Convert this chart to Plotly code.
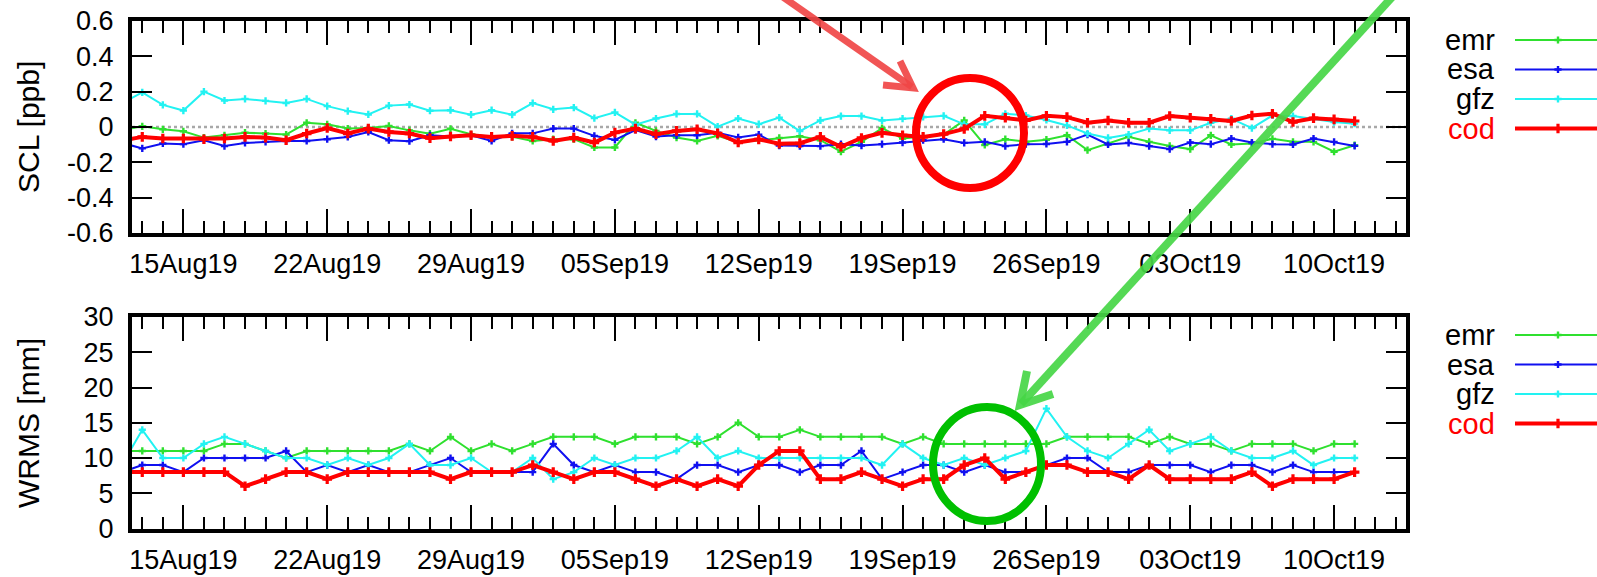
import plotly.graph_objects as go
import pandas as pd

# ---------------- data ----------------
dates = pd.date_range("2019-08-12", "2019-10-11", freq="D")

series_names = ["emr", "esa", "gfz", "cod"]

scl_emr = [-0.018, 0.004, -0.013, -0.024, -0.06, -0.047, -0.032, -0.037, -0.043, 0.024, 0.015,
           -0.009, -0.006, 0.006, -0.019, -0.038, -0.01, -0.041, -0.056, -0.056, -0.079,
           -0.069, -0.069, -0.116, -0.116, 0.024, -0.022, -0.06, -0.079, -0.05, -0.086,
           -0.075, -0.062, -0.052, -0.075, -0.14, -0.084, -0.006, -0.065, -0.056, -0.043,
           0.037, -0.102, -0.069, -0.084, -0.072, -0.047, -0.131, -0.093, -0.056, -0.084,
           -0.107, -0.125, -0.047, -0.099, -0.093, -0.067, -0.084, -0.084, -0.14, -0.103]
scl_esa = [-0.09, -0.121, -0.093, -0.097, -0.075, -0.108, -0.09, -0.084, -0.079, -0.079, -0.069,
           -0.056, -0.028, -0.075, -0.08, -0.047, -0.054, -0.047, -0.079, -0.036, -0.036,
           -0.009, -0.009, -0.05, -0.073, -0.017, -0.054, -0.047, -0.047, -0.032, -0.059,
           -0.043, -0.105, -0.108, -0.108, -0.097, -0.105, -0.097, -0.088, -0.075, -0.069,
           -0.09, -0.084, -0.108, -0.097, -0.096, -0.084, -0.043, -0.099, -0.09, -0.108,
           -0.125, -0.088, -0.097, -0.065, -0.088, -0.097, -0.099, -0.065, -0.084, -0.107]
scl_gfz = [0.134, 0.196, 0.125, 0.093, 0.2, 0.15, 0.159, 0.148, 0.136, 0.159, 0.118,
           0.09, 0.071, 0.121, 0.127, 0.092, 0.095, 0.07, 0.095, 0.07, 0.135,
           0.10, 0.11, 0.05, 0.083, 0.013, 0.048, 0.074, 0.074, 0.002, 0.048,
           0.016, 0.053, -0.023, 0.037, 0.062, 0.062, 0.037, 0.047, 0.057, 0.063,
           0.015, 0.015, 0.075, 0.065, 0.04, 0.009, -0.037, -0.062, -0.043, -0.009,
           -0.019, -0.019, 0.024, 0.047, -0.006, 0.065, 0.062, 0.047, 0.028, 0.019]
scl_cod = [-0.076, -0.056, -0.065, -0.065, -0.069, -0.065, -0.056, -0.06, -0.075, -0.037, -0.006,
           -0.037, -0.009, -0.028, -0.037, -0.063, -0.054, -0.047, -0.056, -0.05, -0.056,
           -0.079, -0.06, -0.088, -0.032, -0.009, -0.041, -0.022, -0.013, -0.036, -0.088,
           -0.07, -0.095, -0.092, -0.056, -0.112, -0.062, -0.033, -0.047, -0.056, -0.04,
           -0.011, 0.063, 0.052, 0.037, 0.063, 0.056, 0.024, 0.037, 0.024, 0.024,
           0.062, 0.052, 0.047, 0.034, 0.065, 0.075, 0.028, 0.05, 0.043, 0.034]

wrms_emr = [11, 11, 11, 11, 11, 12, 12, 11, 10, 11, 11,
            11, 11, 11, 12, 11, 13, 11, 12, 11, 12,
            13, 13, 13, 12, 13, 13, 13, 12, 13, 15,
            13, 13, 14, 13, 13, 13, 13, 12, 13, 12,
            12, 12, 12, 12, 12, 13, 13, 13, 13, 12,
            13, 12, 12, 11, 12, 12, 12, 11, 12, 12]
wrms_esa = [8, 9, 9, 8, 10, 10, 10, 10, 11, 8, 9,
            8, 9, 8, 8, 9, 10, 8, 8, 8, 8,
            12, 9, 8, 9, 8, 8, 7, 9, 9, 8,
            9, 9, 8, 9, 9, 11, 7, 8, 9, 9,
            8, 9, 8, 8, 9, 10, 10, 8, 8, 9,
            9, 9, 8, 9, 9, 8, 9, 8, 8, 8]
wrms_gfz = [9, 14, 10, 10, 12, 13, 12, 11, 10, 10, 9,
            10, 9, 10, 12, 9, 9, 10, 8, 8, 10,
            7, 8, 10, 9, 10, 10, 11, 13, 10, 11,
            10, 10, 10, 10, 10, 10, 9, 12, 10, 9,
            10, 9, 10, 11, 17, 13, 11, 10, 12, 14,
            11, 12, 13, 11, 10, 10, 11, 9, 10, 10]
wrms_cod = [8, 8, 8, 8, 8, 8, 6, 7, 8, 8, 7,
            8, 8, 8, 8, 8, 7, 8, 8, 8, 9,
            8, 7, 8, 8, 7, 6, 7, 6, 7, 6,
            9, 11, 11, 7, 7, 8, 7, 6, 7, 7,
            9, 10, 7, 8, 9, 9, 8, 8, 7, 9,
            7, 7, 7, 7, 8, 6, 7, 7, 7, 8]

x_tick_dates = ["2019-08-15", "2019-08-22", "2019-08-29", "2019-09-05", "2019-09-12",
                "2019-09-19", "2019-09-26", "2019-10-03", "2019-10-10"]
x_tick_labels = ["15Aug19", "22Aug19", "29Aug19", "05Sep19", "12Sep19",
                 "19Sep19", "26Sep19", "03Oct19", "10Oct19"]
scl_ticks = [-0.6, -0.4, -0.2, 0, 0.2, 0.4, 0.6]
scl_labels = ["-0.6", "-0.4", "-0.2", "0", "0.2", "0.4", "0.6"]
wrms_ticks = [0, 5, 10, 15, 20, 25, 30]
wrms_labels = ["0", "5", "10", "15", "20", "25", "30"]

# ---------------- style ----------------
W, H = 1597, 577
FONT = "Liberation Sans, Arial, sans-serif"
colors = {"emr": "#2fe02f", "esa": "#1010f0", "gfz": "#22f2f2", "cod": "#ff0000"}
lwidth = {"emr": 2, "esa": 2, "gfz": 2, "cod": 4}
msize = {"emr": 6, "esa": 6, "gfz": 6, "cod": 8}


def px(x):
    return x / W


def py(y):
    return 1 - y / H


fig = go.Figure()

top = {"emr": scl_emr, "esa": scl_esa, "gfz": scl_gfz, "cod": scl_cod}
bot = {"emr": wrms_emr, "esa": wrms_esa, "gfz": wrms_gfz, "cod": wrms_cod}

for panel, (xa, ya) in [(top, ("x", "y")), (bot, ("x2", "y2"))]:
    for name in series_names:
        fig.add_trace(go.Scatter(
            x=dates, y=panel[name], xaxis=xa, yaxis=ya, mode="lines+markers",
            line=dict(color=colors[name], width=lwidth[name]),
            marker=dict(symbol="cross", size=msize[name], color=colors[name]),
            showlegend=False, hoverinfo="skip"))

# legend samples on an overlay axis in pixel units
legend_rows_top = [40, 69.5, 99, 128.5]
legend_rows_bot = [335, 364.5, 394, 423.5]
for rows in (legend_rows_top, legend_rows_bot):
    for name, ry in zip(series_names, rows):
        fig.add_trace(go.Scatter(
            x=[1515, 1600], y=[ry, ry], xaxis="x3", yaxis="y3", mode="lines",
            line=dict(color=colors[name], width=lwidth[name]),
            showlegend=False, hoverinfo="skip"))
        fig.add_trace(go.Scatter(
            x=[1558], y=[ry], xaxis="x3", yaxis="y3", mode="markers",
            marker=dict(symbol="cross", size=msize[name], color=colors[name]),
            showlegend=False, hoverinfo="skip"))
        fig.add_annotation(x=px(1497), y=py(ry), xref="paper", yref="paper",
                           text=name, showarrow=False, xanchor="right", yanchor="middle",
                           font=dict(family=FONT, size=29,
                                     color="#ff0000" if name == "cod" else "black"))

xcommon = dict(
    type="date", range=["2019-08-12 12:00", "2019-10-13 12:00"],
    domain=[px(132), px(1406)],
    tickmode="array", tickvals=x_tick_dates, ticktext=x_tick_labels,
    ticks="inside", ticklen=24, tickwidth=2, tickcolor="black",
    minor=dict(ticks="inside", ticklen=12, tickwidth=2, tickcolor="black",
               dtick=86400000, tick0="2019-08-13", showgrid=False),
    showline=True, linewidth=4, linecolor="black", mirror="allticks",
    showgrid=False, zeroline=False, ticklabelstandoff=4,
    tickfont=dict(family=FONT, size=27, color="black"),
)
ycommon = dict(
    tickmode="array", ticks="inside", ticklen=20, tickwidth=2, tickcolor="black",
    showline=True, linewidth=4, linecolor="black", mirror="allticks",
    showgrid=False, zeroline=False, ticklabelstandoff=9,
    tickfont=dict(family=FONT, size=27, color="black"),
)

fig.update_layout(
    width=W, height=H, autosize=False,
    margin=dict(l=0, r=0, t=0, b=0),
    paper_bgcolor="white", plot_bgcolor="rgba(0,0,0,0)",
    template="none",
    xaxis=dict(anchor="y", **xcommon),
    yaxis=dict(anchor="x", domain=[py(233), py(21)], range=[-0.6, 0.6],
               tickvals=scl_ticks, ticktext=scl_labels, **ycommon),
    xaxis2=dict(anchor="y2", **xcommon),
    yaxis2=dict(anchor="x2", domain=[py(528.5), py(317)], range=[0, 30],
                tickvals=wrms_ticks, ticktext=wrms_labels, **ycommon),
    xaxis3=dict(anchor="y3", domain=[0, 1], range=[0, W], visible=False, fixedrange=True),
    yaxis3=dict(anchor="x3", domain=[0, 1], range=[H, 0], visible=False, fixedrange=True),
)

# axis titles
fig.add_annotation(x=px(28), y=py(127), xref="paper", yref="paper", text="SCL [ppb]",
                   textangle=-90, showarrow=False, xanchor="center", yanchor="middle",
                   font=dict(family=FONT, size=30, color="black"))
fig.add_annotation(x=px(28), y=py(423), xref="paper", yref="paper", text="WRMS [mm]",
                   textangle=-90, showarrow=False, xanchor="center", yanchor="middle",
                   font=dict(family=FONT, size=30, color="black"))

# dotted zero line in top panel
fig.add_shape(type="line", xref="x domain", yref="y", x0=0, x1=1, y0=0, y1=0,
              line=dict(color="#a8a8a8", width=2.5, dash="dot"), layer="below")

# ---------------- highlight overlays ----------------
def path(points):
    return "M " + " L ".join(f"{px(a)},{py(b)}" for a, b in points)

red_arrow = "rgba(240,70,70,0.92)"
green_arrow = "rgba(70,214,70,0.92)"

fig.add_shape(type="line", xref="paper", yref="paper",
              x0=px(780), y0=py(-5), x1=px(912), y1=py(87),
              line=dict(color=red_arrow, width=7), layer="above")
fig.add_shape(type="path", xref="paper", yref="paper",
              path=path([(900, 61), (913, 88), (883, 85)]),
              line=dict(color=red_arrow, width=7), layer="above")
fig.add_shape(type="circle", xref="paper", yref="paper",
              x0=px(916), x1=px(1024), y0=py(188), y1=py(78),
              line=dict(color="#ff0000", width=8), layer="above")

fig.add_shape(type="line", xref="paper", yref="paper",
              x0=px(1394), y0=py(-5), x1=px(1021), y1=py(404),
              line=dict(color=green_arrow, width=8), layer="above")
fig.add_shape(type="path", xref="paper", yref="paper",
              path=path([(1027, 371), (1020, 405), (1053, 394)]),
              line=dict(color=green_arrow, width=8), layer="above")
fig.add_shape(type="circle", xref="paper", yref="paper",
              x0=px(933), x1=px(1041), y0=py(521), y1=py(407),
              line=dict(color="#00c000", width=8), layer="above")

fig.write_html("out.html")
